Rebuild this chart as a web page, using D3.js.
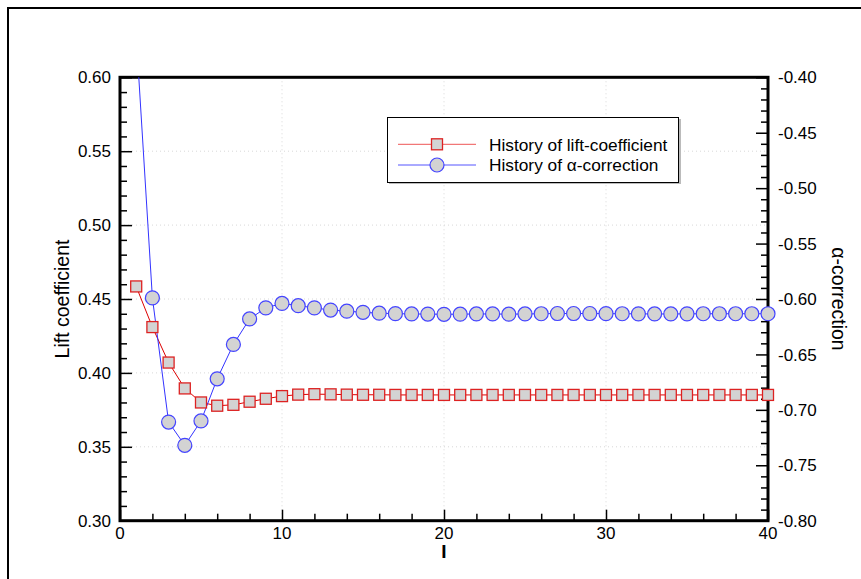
<!DOCTYPE html>
<html><head><meta charset="utf-8">
<script src="https://cdn.jsdelivr.net/npm/d3@7"></script>
<style>body{margin:0;background:#fff;}svg{display:block;font-family:Arial,"Liberation Sans",sans-serif;}</style>
</head><body>
<svg id="c" width="861" height="579"></svg>
<script>
const iterations = d3.range(1, 41);
const liftValues = [0.4585,0.431,0.407,0.3895,0.380,0.3778,0.3784,0.3805,0.3825,0.3843,
  0.3853,0.3856,0.3855,0.3853,0.3852,0.3852,0.3851,0.3851,0.3851,0.3851,
  0.3851,0.3851,0.3851,0.3851,0.3851,0.3851,0.3851,0.3851,0.3851,0.3851,
  0.3851,0.3851,0.3851,0.3851,0.3851,0.3851,0.3851,0.3851,0.3851,0.3851];
const alphaValues = [-0.362,-0.599,-0.711,-0.732,-0.710,-0.672,-0.641,-0.618,-0.608,-0.604,
  -0.606,-0.608,-0.610,-0.611,-0.612,-0.6128,-0.6132,-0.6135,-0.6136,-0.6138,
  -0.6137,-0.6135,-0.6135,-0.6137,-0.6135,-0.6133,-0.6131,-0.6131,-0.6131,-0.6132,
  -0.6133,-0.6134,-0.6135,-0.6135,-0.6134,-0.6133,-0.6133,-0.6133,-0.6133,-0.6133];
const xTicks = [0,10,20,30,40];
const leftTicks = [0.30,0.35,0.40,0.45,0.50,0.55,0.60];
const rightTicks = [-0.80,-0.75,-0.70,-0.65,-0.60,-0.55,-0.50,-0.45,-0.40];
const legendLabels = ["History of lift-coefficient", "History of \u03B1-correction"];

const svg = d3.select("#c");
const L = 120, R = 768, T = 77.3, B = 520.7;
const x = d3.scaleLinear().domain([0,40]).range([L,R]);
const yL = d3.scaleLinear().domain([0.30,0.60]).range([B,T]);
const yR = d3.scaleLinear().domain([-0.80,-0.40]).range([B,T]);

// outer frame
svg.append("path").attr("d",`M8,590 L8,8 L880,8`).attr("fill","none").attr("stroke","#000").attr("stroke-width",2);

// grid
const g = svg.append("g");
g.selectAll(".gx").data(xTicks.slice(1,-1)).join("line")
  .attr("x1",d=>x(d)).attr("x2",d=>x(d)).attr("y1",T).attr("y2",B)
  .attr("stroke","#d8d8d8").attr("stroke-width",1).attr("stroke-dasharray","1,3");
g.selectAll(".gy").data(leftTicks.slice(1,-1)).join("line")
  .attr("y1",d=>yL(d)).attr("y2",d=>yL(d)).attr("x1",L).attr("x2",R)
  .attr("stroke","#d8d8d8").attr("stroke-width",1).attr("stroke-dasharray","1,3");

// clip (top only)
svg.append("clipPath").attr("id","clip").append("rect").attr("x",0).attr("y",T).attr("width",861).attr("height",579-T);
const plot = svg.append("g").attr("clip-path","url(#clip)");

const liftData = iterations.map((d,i)=>[d, liftValues[i]]);
const alphaData = iterations.map((d,i)=>[d, alphaValues[i]]);

plot.append("path").datum(liftData).attr("fill","none").attr("stroke","#dd0000").attr("stroke-width",1)
  .attr("d", d3.line().x(d=>x(d[0])).y(d=>yL(d[1])));
plot.append("path").datum(alphaData).attr("fill","none").attr("stroke","#3333ff").attr("stroke-width",1)
  .attr("d", d3.line().x(d=>x(d[0])).y(d=>yR(d[1])));

// axes (ticks inward)
const fs = 17;
const xAxis = d3.axisTop(x).tickValues(d3.range(0,41,2)).tickFormat("").tickSizeOuter(0).tickSize(7);
const xg = svg.append("g").attr("transform",`translate(0,${B})`).call(xAxis);
xg.selectAll(".tick line").attr("stroke-width",1.5).attr("y2",d=>d%10===0?-11:-7);
xg.select(".domain").remove();
svg.selectAll(".xl").data(xTicks).join("text").attr("x",d=>x(d)).attr("y",B+18)
  .attr("text-anchor","middle").attr("font-size",fs).text(d=>d);

const lAxis = d3.axisRight(yL).tickValues(d3.range(30,61,1).map(v=>v/100)).tickFormat("").tickSizeOuter(0).tickSize(7);
const lg = svg.append("g").attr("transform",`translate(${L},0)`).call(lAxis);
lg.selectAll(".tick line").attr("stroke-width",1.5).attr("x2",(d,i)=>i%5===0?12:7);
lg.select(".domain").remove();
svg.selectAll(".ll").data(leftTicks).join("text").attr("x",L-9).attr("y",d=>yL(d)).attr("dy","0.36em")
  .attr("text-anchor","end").attr("font-size",fs).text(d=>d.toFixed(2));

const rAxis = d3.axisLeft(yR).tickValues(d3.range(-80,-39,1).map(v=>v/100)).tickFormat("").tickSizeOuter(0).tickSize(7);
const rg = svg.append("g").attr("transform",`translate(${R},0)`).call(rAxis);
rg.selectAll(".tick line").attr("stroke-width",1.5).attr("x2",(d,i)=>i%5===0?-12:-7);
rg.select(".domain").remove();
svg.selectAll(".rl").data(rightTicks).join("text").attr("x",R+10).attr("y",d=>yR(d)).attr("dy","0.36em")
  .attr("text-anchor","start").attr("font-size",fs).text(d=>d.toFixed(2));

// plot frame
svg.append("rect").attr("x",L).attr("y",T).attr("width",R-L).attr("height",B-T)
  .attr("fill","none").attr("stroke","#000").attr("stroke-width",3);

// markers (drawn over frame, clipped only at top)
plot.raise();
plot.selectAll(".sq").data(liftData).join("rect")
  .attr("x",d=>x(d[0])-5.5).attr("y",d=>yL(d[1])-5.5).attr("width",11).attr("height",11)
  .attr("fill","#d3d3d3").attr("stroke","#dd2222").attr("stroke-width",1.3);
plot.selectAll(".ci").data(alphaData).join("circle")
  .attr("cx",d=>x(d[0])).attr("cy",d=>yR(d[1])).attr("r",7)
  .attr("fill","#d3d3d3").attr("stroke","#4444ff").attr("stroke-width",1.2);

// axis titles
svg.append("text").attr("transform",`translate(69,${(T+B)/2}) rotate(-90)`).attr("text-anchor","middle")
  .attr("font-size",19.5).text("Lift coefficient");
svg.append("text").attr("transform",`translate(832,${(T+B)/2}) rotate(90)`).attr("text-anchor","middle")
  .attr("font-size",19.5).text("\u03B1-correction");
svg.append("text").attr("x",x(20)).attr("y",558).attr("text-anchor","middle").attr("font-size",19)
  .attr("font-weight","bold").text("I");

// legend
const lgG = svg.append("g");
lgG.append("rect").attr("x",389).attr("y",119).attr("width",292).attr("height",65).attr("fill","#bbb");
lgG.append("rect").attr("x",387.5).attr("y",117.5).attr("width",291).attr("height",65)
  .attr("fill","#fff").attr("stroke","#000").attr("stroke-width",1);
const rows = [144.3, 165];
lgG.append("line").attr("x1",398).attr("x2",476).attr("y1",rows[0]).attr("y2",rows[0]).attr("stroke","#ee5555").attr("stroke-width",1);
lgG.append("rect").attr("x",437-5.5).attr("y",rows[0]-5.5).attr("width",11).attr("height",11)
  .attr("fill","#d3d3d3").attr("stroke","#dd2222").attr("stroke-width",1.3);
lgG.append("line").attr("x1",398).attr("x2",476).attr("y1",rows[1]).attr("y2",rows[1]).attr("stroke","#5555ff").attr("stroke-width",1);
lgG.append("circle").attr("cx",437).attr("cy",rows[1]).attr("r",7)
  .attr("fill","#d3d3d3").attr("stroke","#4444ff").attr("stroke-width",1.2);
lgG.selectAll(".lt").data(legendLabels).join("text").attr("x",489).attr("y",(d,i)=>rows[i]).attr("dy","0.36em")
  .attr("font-size",17.3).text(d=>d);
</script>
</body></html>
